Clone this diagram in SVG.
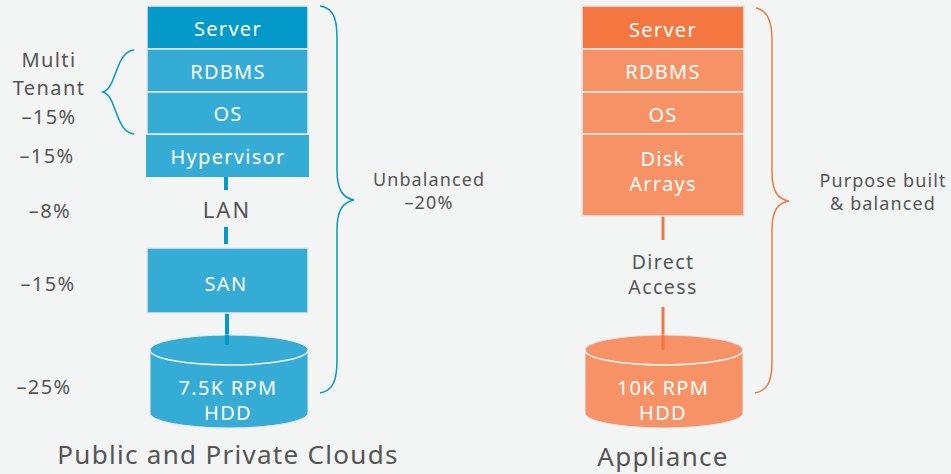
<svg xmlns="http://www.w3.org/2000/svg" width="951" height="474" viewBox="0 0 951 474">
<style>
text{font-family:"Noto Sans","DejaVu Sans",sans-serif;text-anchor:middle}
.w{fill:#fff;font-size:20px;letter-spacing:1.3px}
.g{fill:#555;font-size:20px;letter-spacing:1.4px}
.s{fill:#555;font-size:18px;letter-spacing:1.1px}
.cap{fill:#555;font-size:26px;letter-spacing:1.3px}
.b1{fill:#0399c9;stroke:#e6e9ea;stroke-width:1.5}
.b2{fill:#35acd6;stroke:#e6e9ea;stroke-width:1.5}
.o1{fill:#f47742;stroke:#e6e9ea;stroke-width:1.5}
.o2{fill:#f69266;stroke:#e6e9ea;stroke-width:1.5}
.br{fill:none;stroke-width:1.5}
</style>
<rect width="951" height="474" fill="#f3f4f4"/>
<g id="connectors">
<line x1="226" y1="176" x2="226" y2="190" stroke="#0399c9" stroke-width="4"/>
<line x1="226" y1="227" x2="226" y2="244" stroke="#0399c9" stroke-width="4"/>
<line x1="227" y1="312" x2="227" y2="345" stroke="#0399c9" stroke-width="4"/>
<line x1="663" y1="216" x2="663" y2="240" stroke="#f47742" stroke-width="3"/>
<line x1="663" y1="307" x2="663" y2="350" stroke="#f47742" stroke-width="3"/>
</g>
<g id="left-server"><rect class="b1" x="147" y="6" width="161" height="43"/><text class="w" x="228" y="36">Server</text></g>
<g id="left-rdbms"><rect class="b2" x="147" y="49" width="161" height="43"/><text class="w" x="228" y="79">RDBMS</text></g>
<g id="left-os"><rect class="b2" x="147" y="92" width="161" height="42"/><text class="w" x="228" y="121">OS</text></g>
<g id="left-hypervisor"><rect fill="#35acd6" x="146" y="135" width="163" height="42"/><text class="w" x="228" y="164">Hypervisor</text></g>
<g id="left-lan"><text class="g" x="227" y="218" style="font-size:22px;letter-spacing:2px">LAN</text></g>
<g id="left-san"><rect class="b2" x="147" y="248" width="161" height="65"/><text class="w" x="226" y="291">SAN</text></g>
<g id="left-hdd">
<path d="M150,350 A79,15 0 0 1 308,350 L308,413 A79,15 0 0 1 150,413 Z" fill="#35acd6" stroke="#e6e9ea" stroke-width="1"/>
<path d="M150,350 A79,15 0 0 0 308,350" fill="none" stroke="#f3f4f4" stroke-width="1.5"/>
<line x1="227" y1="335" x2="227" y2="345" stroke="#0399c9" stroke-width="4"/>
<text class="w" x="228" y="395">7.5K RPM<tspan x="228" dy="25">HDD</tspan></text>
</g>
<g id="left-labels">
<text class="g" x="49" y="67">Multi<tspan x="49" dy="28">Tenant</tspan><tspan x="49" dy="29">–15%</tspan></text>
<text class="g" x="47" y="163">–15%</text>
<text class="g" x="50" y="218">–8%</text>
<text class="g" x="48" y="291">–15%</text>
<text class="g" x="44" y="394">–25%</text>
<path class="br" stroke="#0399c9" d="M134,50 C115,52 117,88 103,92 C117,96 115,132 134,134"/>
</g>
<g id="left-brace">
<path class="br" stroke="#0399c9" d="M320,6 C336,8 337,24 337,40 L337,170 C337,190 343,198 354,200 C343,202 337,210 337,230 L337,360 C337,378 334,391 320,393"/>
<text class="s" x="429" y="186">Unbalanced<tspan x="429" dy="23">–20%</tspan></text>
</g>
<g id="right-server"><rect class="o1" x="582" y="6" width="162" height="43"/><text class="w" x="663" y="37">Server</text></g>
<g id="right-rdbms"><rect class="o2" x="582" y="49" width="162" height="43"/><text class="w" x="663" y="79">RDBMS</text></g>
<g id="right-os"><rect class="o2" x="582" y="92" width="162" height="42"/><text class="w" x="663" y="122">OS</text></g>
<g id="right-disk"><rect class="o2" x="582" y="134" width="162" height="82"/><text class="w" x="663" y="166">Disk<tspan x="663" dy="25">Arrays</tspan></text></g>
<g id="right-direct"><text class="g" x="663" y="269" style="font-size:19.5px">Direct<tspan x="663" dy="25">Access</tspan></text></g>
<g id="right-hdd">
<path d="M585,350 A79,15 0 0 1 743,350 L743,413 A79,15 0 0 1 585,413 Z" fill="#f69266" stroke="#e6e9ea" stroke-width="1"/>
<path d="M585,350 A79,15 0 0 0 743,350" fill="none" stroke="#f3f4f4" stroke-width="1.5"/>
<line x1="663" y1="335" x2="663" y2="350" stroke="#f47742" stroke-width="3"/>
<text class="w" x="663" y="395">10K RPM<tspan x="663" dy="25">HDD</tspan></text>
</g>
<g id="right-brace">
<path class="br" stroke="#f47742" d="M756,8 C768,10 772,24 772,40 L772,172 C772,192 778,199 789,201 C778,203 772,210 772,230 L772,362 C772,380 768,391 755,393"/>
<text class="s" x="883" y="187">Purpose built<tspan x="883" dy="23">&amp; balanced</tspan></text>
</g>
<g id="captions">
<text class="cap" x="228" y="464">Public and Private Clouds</text>
<text class="cap" x="663" y="466">Appliance</text>
</g>
</svg>
